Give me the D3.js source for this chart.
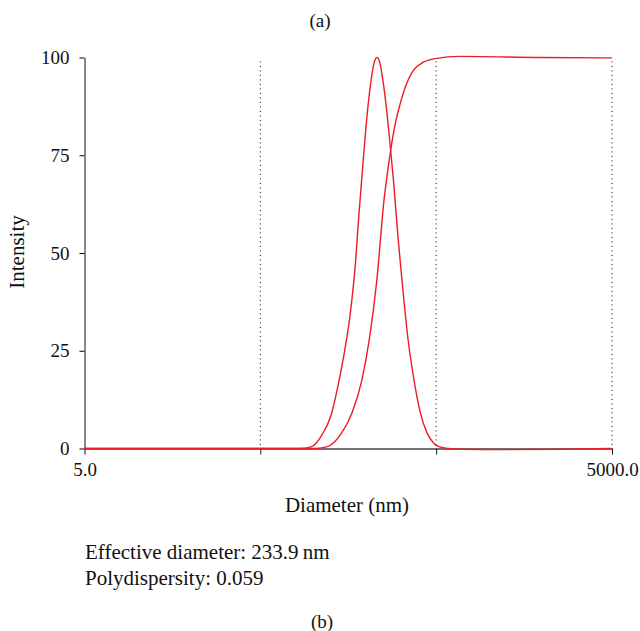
<!DOCTYPE html>
<html>
<head>
<meta charset="utf-8">
<title>Size distribution</title>
<script src="https://d3js.org/d3.v7.min.js"></script>
<style>
  body { margin: 0; background: #fff; }
  text { font-family: "Liberation Serif", "DejaVu Serif", serif; fill: #111; }
</style>
</head>
<body>
<svg id="chart" width="640" height="631"></svg>
<script>
// intensity distribution (diameter in nm, intensity)
var distDiam = [5, 20, 60, 84, 97.1, 112.1, 126.2, 138.2, 149.5, 161.8, 172.7, 182, 191.8, 202.1, 213, 221.5, 230.4,
                239.6, 249.2, 259.2, 273.2, 287.9, 303.4, 319.6, 345.8, 374.1, 404.6, 443.4, 486, 525.9, 583.8, 700, 1200, 2500, 5000];
var distVal  = [0, 0, 0, 0, 0.4, 3.5, 8.5, 16, 24, 34, 46, 60, 73, 85, 94, 98.5, 100,
                98.5, 94, 88, 78, 67, 54, 43, 28, 17.5, 9.5, 4, 1.3, 0.4, 0, -0.2, -0.3, -0.2, 0];

// cumulative curve
var cumDiam = [5, 60, 100, 119, 145, 166, 189, 208, 230, 252.6, 266.1, 280.5, 295.6, 311.4, 332.5, 371, 423, 493, 684, 1950, 5000];
var cumVal  = [0, 0, 0, 0.4, 4.0, 9.1, 17.5, 27.7, 43.1, 63.6, 71.5, 78.5, 84, 88, 92.2, 96.7, 98.8, 99.7, 100.3, 100, 99.9];

var xTicks = [5, 50, 500, 5000];
var yTicks = [0, 25, 50, 75, 100];
var gridLines = [50, 500, 5000];
var infoLines = ["Effective diameter: 233.9\u2009nm", "Polydispersity: 0.059"];

var svg = d3.select("#chart");

var x = d3.scaleLog().domain([5, 5000]).range([84.5, 612]);
var y = d3.scaleLinear().domain([0, 100]).range([448.5, 57.5]);

// dotted verticals
svg.selectAll(".grid")
  .data(gridLines)
  .enter()
  .append("line")
  .attr("class", "grid")
  .attr("x1", d => x(d)).attr("x2", d => x(d))
  .attr("y1", y(99)).attr("y2", y(0))
  .attr("stroke", "#000")
  .attr("stroke-width", 1)
  .attr("stroke-dasharray", "1,3.5");

// x axis
var xAxis = svg.append("g")
  .attr("transform", "translate(0," + y(0) + ")")
  .call(d3.axisBottom(x)
    .tickValues(xTicks)
    .tickSize(6)
    .tickSizeOuter(0)
    .tickPadding(8)
    .tickFormat(function(d){
      if(d == 5) return "5.0";
      if(d == 5000) return "5000.0";
      return "";
    }));
xAxis.select(".domain").attr("stroke", "#444").attr("stroke-width", 1.5);
xAxis.selectAll(".tick line").attr("stroke", "#111");
xAxis.selectAll("text").style("font-size", "19px");

// y axis
var yAxis = svg.append("g")
  .attr("transform", "translate(" + x(5) + ",0)")
  .call(d3.axisLeft(y)
    .tickValues(yTicks)
    .tickSize(5)
    .tickSizeOuter(0)
    .tickPadding(10));
yAxis.select(".domain").attr("stroke", "#111");
yAxis.selectAll("text").style("font-size", "19px");

// curves
var line = d3.line()
  .x(d => x(d[0]))
  .y(d => y(d[1]))
  .curve(d3.curveMonotoneX);

svg.append("path")
  .datum(d3.zip(cumDiam, cumVal))
  .attr("d", line)
  .attr("fill", "none")
  .attr("stroke", "#ec1c24")
  .attr("stroke-width", 1.4);

svg.append("path")
  .datum(d3.zip(distDiam, distVal))
  .attr("d", line)
  .attr("fill", "none")
  .attr("stroke", "#ec1c24")
  .attr("stroke-width", 1.4);

// titles
svg.append("text")
  .attr("x", 320).attr("y", 27)
  .attr("text-anchor", "middle")
  .style("font-size", "19px")
  .text("(a)");

svg.append("text")
  .attr("transform", "translate(24,252) rotate(-90)")
  .attr("text-anchor", "middle")
  .style("font-size", "21px")
  .text("Intensity");

svg.append("text")
  .attr("x", 347).attr("y", 512)
  .attr("text-anchor", "middle")
  .style("font-size", "21px")
  .text("Diameter (nm)");

svg.selectAll(".info")
  .data(infoLines)
  .enter()
  .append("text")
  .attr("class", "info")
  .attr("x", 85)
  .attr("y", (d, i) => 559 + i * 26)
  .style("font-size", "21px")
  .text(d => d);

svg.append("text")
  .attr("x", 322).attr("y", 628)
  .attr("text-anchor", "middle")
  .style("font-size", "19px")
  .text("(b)");
</script>
</body>
</html>
